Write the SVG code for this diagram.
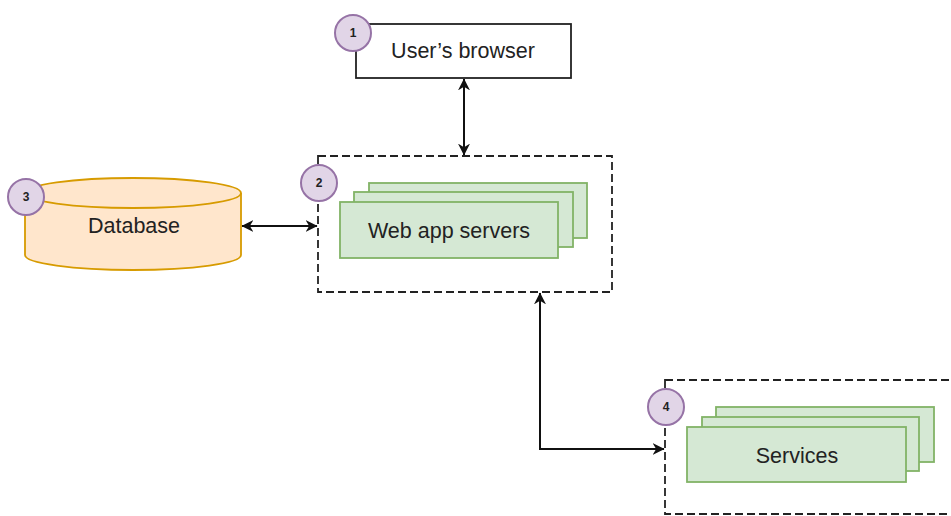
<svg xmlns="http://www.w3.org/2000/svg" width="951" height="516" viewBox="0 0 951 516">
<style>
text{font-family:"Liberation Sans",Arial,sans-serif;fill:#222;text-anchor:middle}
.lbl{font-size:21.5px}
.num{font-size:12px;font-weight:bold}
.badge{fill:#e1d5e7;stroke:#9673a6;stroke-width:2}
.grp{fill:none;stroke:#222;stroke-width:1.8;stroke-dasharray:8 4}
.card{fill:#d5e8d4;stroke:#82b366;stroke-width:1.8}
.conn{fill:none;stroke:#111;stroke-width:2}
</style>
<defs>
<marker id="ah" viewBox="0 0 10 10" refX="9.5" refY="5" markerWidth="12" markerHeight="12" orient="auto-start-reverse" markerUnits="userSpaceOnUse">
<path d="M0,0 L10,5 L0,10 L3,5 Z" fill="#111"/>
</marker>
</defs>
<g id="connectors">
<line class="conn" x1="464" y1="79" x2="464" y2="155" marker-start="url(#ah)" marker-end="url(#ah)"/>
<line class="conn" x1="242" y1="226" x2="317" y2="226" marker-start="url(#ah)" marker-end="url(#ah)"/>
<polyline class="conn" points="540,293 540,449 664,449" marker-start="url(#ah)" marker-end="url(#ah)"/>
</g>
<g id="browser">
<rect x="356" y="24" width="215" height="54" fill="#fff" stroke="#222" stroke-width="1.8"/>
<text class="lbl" x="463" y="58">User’s browser</text>
<circle class="badge" cx="353" cy="33" r="18"/>
<text class="num" x="353" y="37">1</text>
</g>
<g id="webapp">
<rect class="grp" x="318" y="156" width="294" height="136"/>
<rect class="card" x="369" y="183" width="218" height="55"/>
<rect class="card" x="354" y="192" width="219" height="55"/>
<rect class="card" x="340" y="202" width="218" height="56"/>
<text class="lbl" x="449" y="238">Web app servers</text>
<circle class="badge" cx="319" cy="183" r="18"/>
<text class="num" x="319" y="187">2</text>
</g>
<g id="database">
<path d="M25,193 L25,255 A108,15 0 0 0 241,255 L241,193" fill="#ffe6cc" stroke="#d79b00" stroke-width="1.8"/>
<ellipse cx="133" cy="193" rx="108" ry="15" fill="#ffe6cc" stroke="#d79b00" stroke-width="1.8"/>
<text class="lbl" x="134" y="233">Database</text>
<circle class="badge" cx="26" cy="197" r="18"/>
<text class="num" x="26" y="201">3</text>
</g>
<g id="services">
<rect class="grp" x="665" y="380" width="290" height="134"/>
<rect class="card" x="716" y="407" width="218" height="55"/>
<rect class="card" x="702" y="417" width="217" height="54"/>
<rect class="card" x="687" y="427" width="219" height="55"/>
<text class="lbl" x="797" y="463">Services</text>
<circle class="badge" cx="666" cy="407" r="18"/>
<text class="num" x="666" y="411">4</text>
</g>
</svg>
